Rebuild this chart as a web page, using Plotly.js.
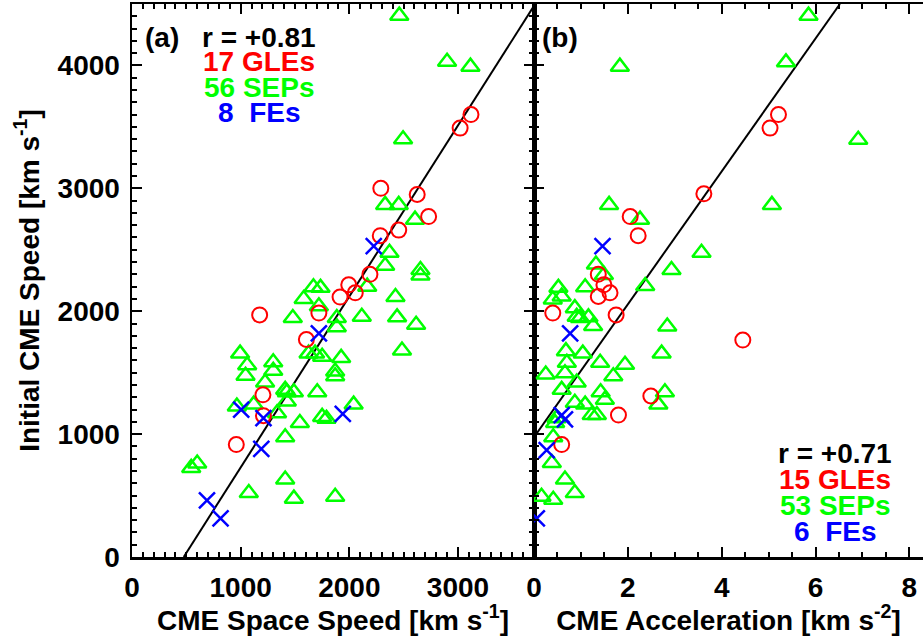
<!DOCTYPE html>
<html><head><meta charset="utf-8">
<script src="https://cdn.plot.ly/plotly-3.0.1.min.js"></script>
<style>html,body{margin:0;padding:0;background:#fff}</style>
</head><body><div id="chart" style="width:923px;height:636px"></div>
<script>
// ---- Panel (a): CME space speed vs initial CME speed ----
const gleSpaceA = [3120, 3020, 2290, 2625, 2730, 2455, 2285, 2190, 1995, 2055, 1915, 1720, 1605, 1175, 1205, 1210, 960];
const gleInitA  = [3600, 3490, 3000, 2950, 2770, 2660, 2615, 2300, 2215, 2150, 2115, 1985, 1770, 1970, 1320, 1150, 915];
const sepSpaceA = [2460, 2900, 3115, 2495, 2330, 2455, 2605, 2370, 2330, 2655, 2655, 2165, 2425, 2115, 2440, 1885, 1885, 2615, 2485, 1925, 1870, 1870, 2040, 1870, 1670, 1735, 1580, 1720, 1480, 1625, 1685, 1750, 995, 1060, 1045, 1300, 1300, 1225, 1410, 1425, 1490, 1705, 965, 1120, 1425, 1335, 1545, 1750, 1790, 1410, 1410, 1490, 1075, 545, 600];
const sepInitA  = [4405, 4030, 3990, 3400, 2865, 2865, 2745, 2475, 2370, 2335, 2290, 2200, 2115, 1955, 1950, 1945, 1870, 1890, 1680, 1620, 1510, 1470, 1240, 490, 2195, 2190, 2100, 2040, 1945, 1655, 1655, 1630, 1655, 1560, 1475, 1585, 1515, 1420, 1360, 1340, 1340, 1340, 1225, 1240, 1265, 1170, 1090, 1140, 1125, 975, 630, 475, 520, 725, 760];
const feSpaceA  = [1005, 1210, 1190, 690, 815, 1720, 2225, 1940];
const feInitA   = [1200, 1130, 880, 460, 315, 1820, 2530, 1165];
const fitSpaceX = [476, 3700];
const fitSpaceY = [0, 4485];

// ---- Panel (b): CME acceleration vs initial CME speed ----
const gleAccelB = [5.21, 5.03, 3.62, 2.05, 2.22, 1.37, 1.49, 1.62, 1.37, 1.75, 0.40, 2.49, 4.45, 1.80, 0.59];
const gleInitB  = [3600, 3490, 2955, 2770, 2615, 2300, 2215, 2150, 2120, 1970, 1985, 1310, 1765, 1155, 915];
const sepAccelB = [5.85, 5.37, 6.91, 5.07, 1.83, 1.60, 2.26, 3.57, 2.93, 2.37, 1.32, 1.49, 0.52, 0.59, 0.40, 1.09, 0.87, 0.91, 0.98, 1.16, 1.26, 2.84, 0.68, 1.04, 2.72, 0.70, 1.41, 1.94, 0.25, 0.66, 1.69, 0.91, 0.59, 1.42, 2.79, 0.87, 1.09, 1.51, 2.65, 1.23, 1.34, 0.48, 0.45, 0.41, 0.38, 0.66, 0.16, 0.41, 0.87];
const sepInitB  = [4405, 4025, 3395, 2865, 3990, 2865, 2745, 2475, 2335, 2205, 2380, 2295, 2190, 2120, 2095, 2195, 2025, 1955, 1945, 1950, 1880, 1875, 1675, 1655, 1655, 1580, 1580, 1565, 1485, 1495, 1470, 1420, 1360, 1340, 1340, 1255, 1240, 1280, 1240, 1155, 1155, 1130, 1090, 975, 765, 630, 490, 465, 520];
const feAccelB  = [1.46, 0.77, 0.59, 0.66, 0.27, 0.06];
const feInitB   = [2530, 1820, 1155, 1120, 870, 315];
const fitAccelX = [0, 6.52];
const fitAccelY = [975, 4500];

// ---- labels ----
const statsA = ['r = +0.81', '17 GLEs', '56 SEPs', '8\u00a0\u00a0FEs'];
const statsB = ['r = +0.71', '15 GLEs', '53 SEPs', '6\u00a0\u00a0FEs'];
const statColors = ['black', 'red', '#00ff00', 'blue'];

const FONT = 'Liberation Sans, Arial, Helvetica, sans-serif';
const RED = '#ff0000', GREEN = '#00ff00', BLUE = '#0000ff';

function gle(x, y, xa, ya) {
  return {x, y, xaxis: xa, yaxis: ya, type: 'scatter', mode: 'markers', cliponaxis: true,
    marker: {symbol: 'circle-open', size: 15, color: RED, line: {color: RED, width: 2}}};
}
function sep(x, y, xa, ya) {
  return {x, y, xaxis: xa, yaxis: ya, type: 'scatter', mode: 'markers',
    marker: {symbol: 'triangle-up-open', size: 16, color: GREEN, line: {color: GREEN, width: 2.5}}};
}
function fe(x, y, xa, ya) {
  return {x, y, xaxis: xa, yaxis: ya, type: 'scatter', mode: 'markers',
    marker: {symbol: 'x-thin-open', size: 16, color: BLUE, line: {color: BLUE, width: 2.5}}};
}
function fit(x, y, xa, ya) {
  return {x, y, xaxis: xa, yaxis: ya, type: 'scatter', mode: 'lines',
    line: {color: 'black', width: 2}};
}

const data = [
  fit(fitSpaceX, fitSpaceY, 'x', 'y'),
  sep(sepSpaceA, sepInitA, 'x', 'y'),
  gle(gleSpaceA, gleInitA, 'x', 'y'),
  fe(feSpaceA, feInitA, 'x', 'y'),
  fit(fitAccelX, fitAccelY, 'x2', 'y2'),
  sep(sepAccelB, sepInitB, 'x2', 'y2'),
  gle(gleAccelB, gleInitB, 'x2', 'y2'),
  fe(feAccelB, feInitB, 'x2', 'y2')
];

const tickFont = {family: FONT, size: 28, color: 'black', weight: 'bold'};
const titleFont = {family: FONT, size: 28, color: 'black', weight: 'bold'};
const base = {
  showline: true, linewidth: 2.5, linecolor: 'black',
  ticks: 'inside', ticklen: 10, tickwidth: 2, tickcolor: 'black',
  showgrid: false, zeroline: false, mirror: 'allticks',
  tickfont: tickFont, fixedrange: true,
  minor: {ticks: 'inside', ticklen: 5, tickwidth: 2, tickcolor: 'black', showgrid: false}
};
const SPLIT = (534 - 132) / 791;

const layout = {
  width: 923, height: 636,
  margin: {l: 132, r: 0, t: 4, b: 79, pad: 0},
  paper_bgcolor: 'white', plot_bgcolor: 'white',
  showlegend: false, hovermode: false,
  xaxis: Object.assign({}, base, {
    domain: [0, SPLIT], range: [0, 3700], tickvals: [0, 1000, 2000, 3000],
    minor: Object.assign({}, base.minor, {dtick: 100, tick0: 0}), anchor: 'y',
    ticklabelstandoff: 4,
    title: {text: 'CME Space Speed [km s<sup>-1</sup>]', font: titleFont, standoff: 6}
  }),
  yaxis: Object.assign({}, base, {
    domain: [0, 1], range: [0, 4500], tickvals: [0, 1000, 2000, 3000, 4000],
    minor: Object.assign({}, base.minor, {dtick: 100, tick0: 0}), anchor: 'x',
    ticklabelstandoff: 4,
    title: {text: 'Initial CME Speed [km s<sup>-1</sup>]', font: titleFont, standoff: 10}
  }),
  xaxis2: Object.assign({}, base, {
    domain: [SPLIT, 1], range: [0, 8.29], tickvals: [0, 2, 4, 6, 8],
    minor: Object.assign({}, base.minor, {dtick: 0.5, tick0: 0}), anchor: 'y2',
    ticklabelstandoff: 4,
    title: {text: 'CME Acceleration [km s<sup>-2</sup>]', font: titleFont, standoff: 6}
  }),
  yaxis2: Object.assign({}, base, {
    domain: [0, 1], range: [0, 4500], tickvals: [0, 1000, 2000, 3000, 4000],
    minor: Object.assign({}, base.minor, {dtick: 100, tick0: 0}), anchor: 'x2',
    mirror: false, showticklabels: false
  }),
  annotations: []
};

function addText(text, px, py, color) {
  layout.annotations.push({
    text: text, xref: 'paper', yref: 'paper',
    x: (px - 132) / 791, y: (557 - py) / 553,
    xanchor: 'center', yanchor: 'middle', showarrow: false,
    font: {family: FONT, size: 28, color: color, weight: 'bold'}
  });
}
addText('(a)', 162, 37, 'black');
addText('(b)', 560, 37, 'black');
const rowsA = [37, 61, 87, 113];
const rowsB = [453, 479, 505, 531];
statsA.forEach((t, i) => addText(t, 259, rowsA[i], statColors[i]));
statsB.forEach((t, i) => addText(t, 835, rowsB[i], statColors[i]));

Plotly.newPlot('chart', data, layout, {displayModeBar: false, staticPlot: true});
</script></body></html>
